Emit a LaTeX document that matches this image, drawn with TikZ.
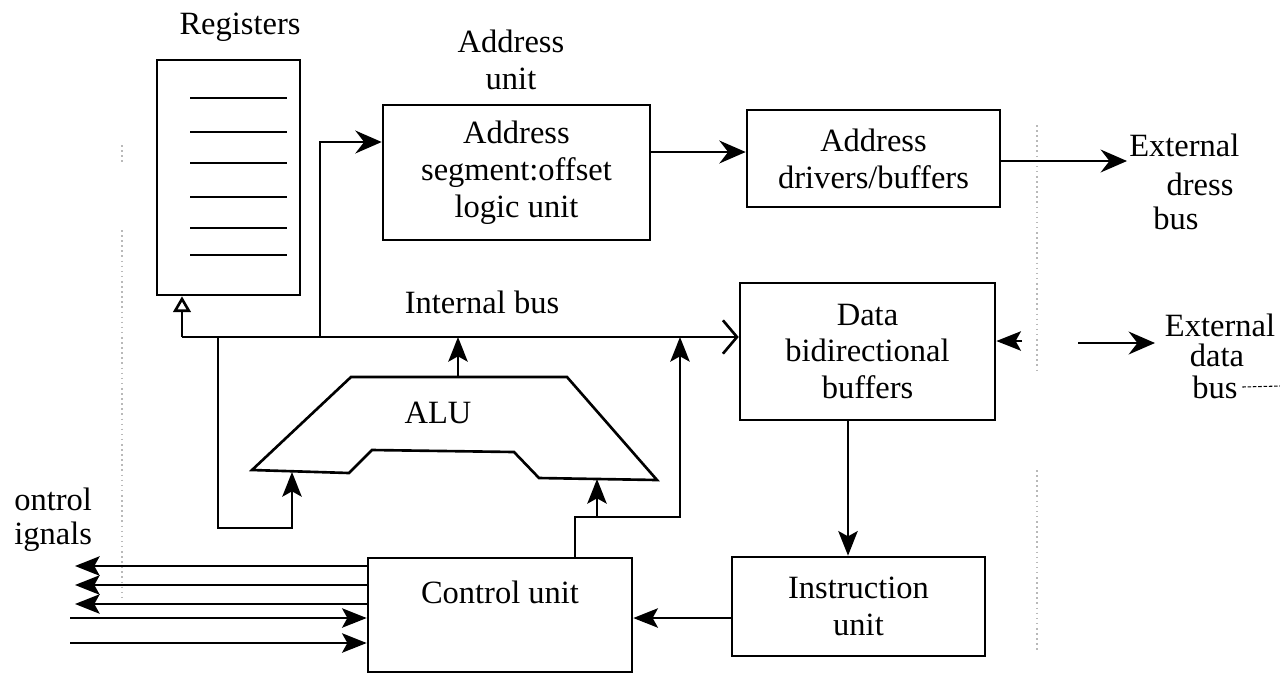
\documentclass[tikz,border=0pt]{standalone}
\usepackage{fontspec}
\setmainfont{Liberation Serif}
\usetikzlibrary{arrows.meta}
\begin{document}
\begin{tikzpicture}[x=0.02cm,y=-0.02cm,
  line width=1.5pt,
  box/.style={draw, inner sep=0pt, align=center, font=\fontsize{18.5}{21}\selectfont},
  txt/.style={inner sep=0pt, align=center, font=\fontsize{18.5}{21}\selectfont},
  arr/.style={-{Stealth[length=15pt,width=13pt,inset=5pt]}},
  farr/.style={-{Stealth[length=14pt,width=11pt,inset=3pt]}},
  regarr/.style={-{Triangle[open,length=9pt,width=10pt]}},
  barb/.style={-{Straight Barb[length=8pt,width=19pt]}},
  frame/.style={gray!55, line width=0.9pt, dotted}
]
\useasboundingbox (0,0) rectangle (1280,677);

% frame lines of the scanned page
\draw[frame] (122,145) -- (122,165);
\draw[frame] (122,230) -- (122,600);
\draw[frame] (1037,125) -- (1037,370);
\draw[frame] (1037,470) -- (1037,650);

% boxes
\node[box, minimum width=2.86cm, minimum height=4.7cm] (regs) at (228.5,177.5) {};
\node[box, minimum width=5.34cm, minimum height=2.7cm] (addr) at (516.5,172.5) {Address\\segment:offset\\logic unit};
\node[box, minimum width=5.06cm, minimum height=1.94cm] (drv) at (873.5,158.5) {Address\\drivers/buffers};
\node[box, minimum width=5.1cm, minimum height=2.74cm] (dbuf) at (867.5,351.5) {Data\\bidirectional\\buffers};
\node[box, minimum width=5.06cm, minimum height=1.98cm] (iu) at (858.5,606.5) {Instruction\\unit};
\node[box, minimum width=5.28cm, minimum height=2.28cm] (cu) at (500,615) {};
\node[txt] (cut) at (500,592) {Control unit};

% register lines
\foreach \yy in {98,132,163,197,228,255}
  \draw (190,\yy) -- (287,\yy);

% labels
\node[txt] (reglbl) at (240,27) {Registers};
\node[txt] (aulbl) at (511,60) {Address\\unit};
\node[txt] (iblbl) at (482,302) {Internal bus};
\node[txt] (alulbl) at (438,413) {ALU};
\node[txt, anchor=west] (ctl1) at (13,499) {ontrol};
\node[txt, anchor=west] (ctl2) at (13,537) {ignals};
\node[txt, anchor=west] (ea1) at (1128,145) {External};
\node[txt] (ea2) at (1200,184) {dress};
\node[txt] (ea3) at (1176,218) {bus};
\node[txt] (ed1l) at (1220,325) {External};
\node[txt] (ed2l) at (1217,355) {data};
\node[txt] (ed3l) at (1215,387) {bus};

% ALU
\draw (351,377) -- (567,377) -- (657,480) -- (539,478) -- (514,452) -- (372,450) -- (349,473) -- (252,470) -- cycle;
\coordinate (alutop) at (458,377);
\coordinate (aluL) at (292,472);
\coordinate (aluR) at (597,479);

% internal bus
\coordinate (busL) at (182,337);
\coordinate (j1) at (218,337);
\coordinate (j2) at (320,337);
\coordinate (j3) at (458,337);
\coordinate (j4) at (680,337);
\draw[regarr] (busL) -- (busL |- regs.south);
\draw[barb] (busL) -- (busL -| dbuf.west);

% to address unit
\coordinate (yA) at (0,142);
\draw[arr] (j2) |- (addr.west |- yA);
\coordinate (yB) at (0,152);
\draw[arr] (addr.east |- yB) -- (drv.west |- yB);
\coordinate (yC) at (0,161);
\coordinate (extA) at (1127,161);
\draw[arr] (drv.east |- yC) -- (extA);

% ALU connections
\draw[farr] (alutop) -- (j3);
\coordinate (yD) at (0,528);
\draw[farr] (j1) |- (aluL |- yD) -- (aluL);
\coordinate (xE) at (575,0);
\coordinate (yF) at (0,517);
\draw[farr] (cu.north -| xE) |- (j4 |- yF) -- (j4);
\draw[farr] (aluR |- yF) -- (aluR);

% data buffers / instruction unit / control unit
\coordinate (xG) at (848,0);
\draw[farr] (dbuf.south -| xG) -- (iu.north -| xG);
\coordinate (yH) at (0,618);
\draw[farr] (iu.west |- yH) -- (cu.east |- yH);

% control signals
\foreach \yy/\nm in {566/o1,585/o2,604/o3}{
  \coordinate (\nm) at (75,\yy);
  \draw[farr] (cu.west |- \nm) -- (\nm);
}
\foreach \yy/\nm in {618/i1,643/i2}{
  \coordinate (\nm) at (70,\yy);
  \draw[farr] (\nm) -- (cu.west |- \nm);
}

% external data bus
\coordinate (edA) at (1078,343);
\coordinate (edB) at (1155,343);
\draw[arr] (edA) -- (edB);
\coordinate (sh) at (1022,341);
\draw[farr] (sh) -- (dbuf.east |- sh);
\coordinate (edE) at (1280,386);
\draw[line width=0.6pt, dash pattern=on 2pt off 1pt] (ed3l.east) ++(2pt,0) -- (edE);
\end{tikzpicture}
\end{document}
